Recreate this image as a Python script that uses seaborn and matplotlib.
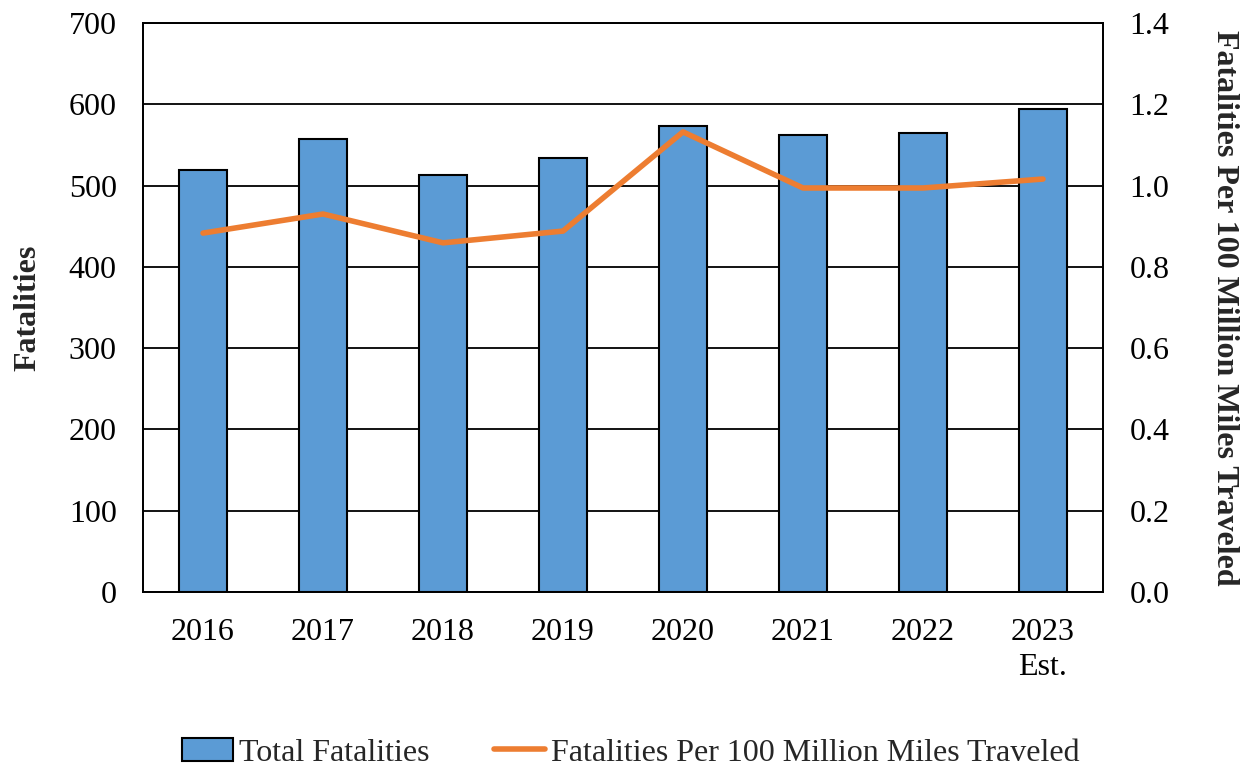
import matplotlib
matplotlib.use("Agg")
import matplotlib.pyplot as plt
from matplotlib.patches import Patch
from matplotlib.lines import Line2D
import seaborn as sns
import pandas as pd

years = ["2016", "2017", "2018", "2019", "2020", "2021", "2022", "2023\nEst."]
total_fatalities = [519, 557, 513, 534, 573, 562, 565, 594]
rate_per_100m = [0.883, 0.930, 0.859, 0.888, 1.132, 0.994, 0.994, 1.016]

left_ticks = [0, 100, 200, 300, 400, 500, 600, 700]
right_ticks = [0.0, 0.2, 0.4, 0.6, 0.8, 1.0, 1.2, 1.4]

BAR_BLUE = "#5B9BD5"
LINE_ORANGE = "#ED7D31"
FS = 23

sns.set_theme(style="white")
plt.rcParams["font.family"] = ["Liberation Serif", "DejaVu Serif"]

df = pd.DataFrame({"year": years, "total": total_fatalities, "rate": rate_per_100m})

fig = plt.figure(figsize=(12.47, 7.66), dpi=100)
ax = fig.add_axes([0.1147, 0.2272, 0.7698, 0.7428])

sns.barplot(data=df, x="year", y="total", color=BAR_BLUE, saturation=1,
            width=0.4, edgecolor="black", linewidth=1.5, ax=ax, zorder=3)
ax.set_ylim(0, 700)
ax.set_yticks(left_ticks)
ax.set_yticklabels([str(t) for t in left_ticks])
ax.yaxis.grid(True, color="black", linewidth=1.3, zorder=0)
ax.set_axisbelow(True)
ax.set_xlim(-0.5, len(years) - 0.5)
ax.tick_params(axis="both", length=0, labelsize=FS, colors="black")
ax.tick_params(axis="x", pad=19)
ax.tick_params(axis="y", pad=19)
for lbl in ax.get_xticklabels():
    lbl.set_linespacing(1.25)
ax.set_xlabel("")
ax.set_ylabel("Fatalities", fontsize=FS, fontweight="bold")
ax.yaxis.set_label_coords(-0.1045, 0.5)
for s in ax.spines.values():
    s.set_color("black")
    s.set_linewidth(1.3)

ax2 = ax.twinx()
sns.pointplot(data=df, x="year", y="rate", color=LINE_ORANGE, markers="",
              linewidth=4.0, ax=ax2, errorbar=None)
ax2.set_ylim(0, 1.4)
ax2.set_yticks(right_ticks)
ax2.set_yticklabels([f"{t:.1f}" for t in right_ticks])
ax2.set_xlim(-0.5, len(years) - 0.5)
ax2.tick_params(axis="y", length=0, labelsize=FS, pad=19, colors="black")
ax2.set_ylabel("Fatalities Per 100 Million Miles Traveled", fontsize=FS,
               fontweight="bold", rotation=270)
ax2.yaxis.set_label_coords(1.111, 0.5)
ax2.yaxis.label.set_verticalalignment("bottom")
ax2.grid(False)
for s in ax2.spines.values():
    s.set_color("black")
    s.set_linewidth(1.3)

handles = [
    Patch(facecolor=BAR_BLUE, edgecolor="black", linewidth=1.5, label="Total Fatalities"),
    Line2D([0], [0], color=LINE_ORANGE, linewidth=4.0,
           label="Fatalities Per 100 Million Miles Traveled"),
]
fig.legend(handles=handles, loc="center", bbox_to_anchor=(0.506, 0.017),
           ncol=2, frameon=False, fontsize=FS, handlelength=1.6,
           handletextpad=0.2, columnspacing=2.0)

fig.savefig("out.png", dpi=100)
